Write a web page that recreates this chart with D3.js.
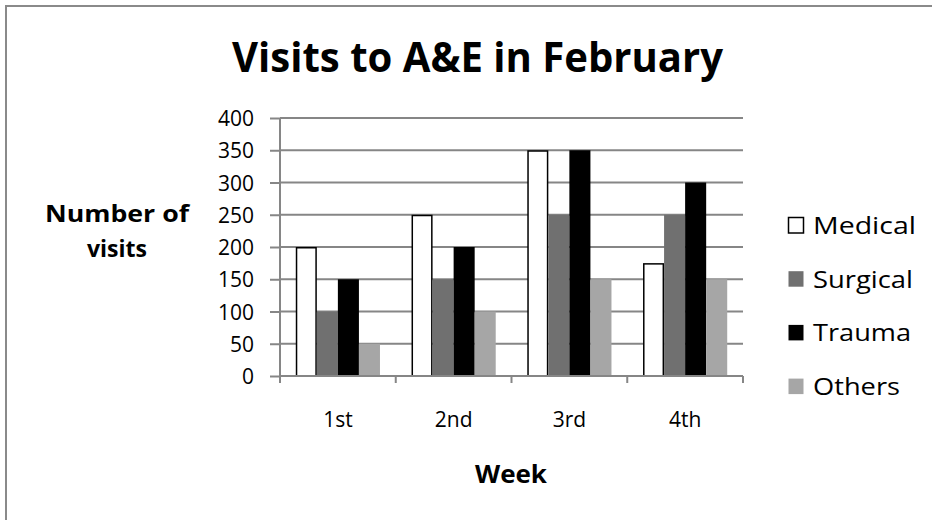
<!DOCTYPE html>
<html>
<head>
<meta charset="utf-8">
<script src="https://cdn.jsdelivr.net/npm/d3@7"></script>
<style>
  html, body { margin: 0; padding: 0; background: #fff; }
  svg { display: block; }
  text { font-family: "Open Sans", "Noto Sans", sans-serif; fill: #000; }
</style>
</head>
<body>
<svg id="chart" width="932" height="520"></svg>
<script>
// ---- data ----
const weeks = ["1st", "2nd", "3rd", "4th"];
const seriesNames = ["Medical", "Surgical", "Trauma", "Others"];
const medical = [200, 250, 350, 175];
const surgical = [100, 150, 250, 250];
const trauma = [150, 200, 350, 300];
const others = [50, 100, 150, 150];
const yTicks = [0, 50, 100, 150, 200, 250, 300, 350, 400];
const titleText = "Visits to A&E in February";
const yLabelLines = ["Number of", "visits"];
const xLabelText = "Week";

const seriesValues = [medical, surgical, trauma, others];
const fills = ["#ffffff", "#707070", "#000000", "#a6a6a6"];
const strokes = ["#000000", "none", "none", "none"];

const svg = d3.select("#chart");

// outer border (only top/left visible in reference)
svg.append("rect").attr("x", 6).attr("y", 6).attr("width", 1200).attr("height", 1200)
  .attr("fill", "none").attr("stroke", "#8a8a8a").attr("stroke-width", 2);

const x0 = 280, x1 = 743, yBottom = 376, yTop = 118;
const x = d3.scaleBand().domain(weeks).range([x0, x1]).padding(0);
const y = d3.scaleLinear().domain([0, 400]).range([yBottom, yTop]);

// gridlines
svg.append("g").selectAll("line").data(yTicks.filter(d => d > 0)).join("line")
  .attr("x1", x0).attr("x2", x1)
  .attr("y1", d => y(d)).attr("y2", d => y(d))
  .attr("stroke", "#868686").attr("stroke-width", 2);

// bars
const bw = x.bandwidth() / 5.5;
const off = bw * 0.75;
const barG = svg.append("g");
seriesValues.forEach((vals, si) => {
  barG.selectAll(null).data(weeks).join("rect")
    .attr("x", d => x(d) + off + si * bw + (si === 0 ? 0.75 : 0))
    .attr("y", (d, i) => y(vals[i]) + (si === 0 ? 0.75 : 0))
    .attr("width", bw - (si === 0 ? 1.5 : 0))
    .attr("height", (d, i) => yBottom - y(vals[i]) - (si === 0 ? 0.75 : 0))
    .attr("fill", fills[si])
    .attr("stroke", strokes[si])
    .attr("stroke-width", 1.5);
});

// y axis
const yAxis = d3.axisLeft(y).tickValues(yTicks).tickSize(10).tickPadding(16);
const yG = svg.append("g").attr("transform", `translate(${x0},0)`).call(yAxis);
yG.select(".domain").attr("stroke", "#868686").attr("stroke-width", 2)
  .attr("d", `M0,${yBottom}V${yTop}`);
yG.selectAll(".tick line").attr("stroke", "#868686").attr("stroke-width", 2);
yG.selectAll(".tick text").attr("font-size", 21).attr("font-family", "'Open Sans', sans-serif")
  .attr("fill", "#000").attr("dy", "0.36em");

// x axis
const xAxis = d3.axisBottom(x).tickSize(0).tickPadding(0);
const xG = svg.append("g").attr("transform", `translate(0,${yBottom})`).call(xAxis);
xG.select(".domain").attr("stroke", "#868686").attr("stroke-width", 2)
  .attr("d", `M${x0},0H${x1}`);
xG.selectAll(".tick text").attr("font-size", 21).attr("font-family", "'Open Sans', sans-serif")
  .attr("fill", "#000").attr("y", 50.7).attr("dy", 0);
// category boundary tick marks
const boundaries = weeks.map(w => x(w)).concat([x1]);
xG.append("g").selectAll("line").data(boundaries).join("line")
  .attr("x1", d => d).attr("x2", d => d).attr("y1", 0).attr("y2", 7)
  .attr("stroke", "#868686").attr("stroke-width", 2);

// title
svg.append("text").attr("x", 477.5).attr("y", 72).attr("text-anchor", "middle")
  .attr("font-size", 42).attr("font-weight", "bold")
  .attr("textLength", 491).attr("lengthAdjust", "spacingAndGlyphs")
  .text(titleText);

// y label
const yLabWidths = [144, 60];
yLabelLines.forEach((t, i) => {
  svg.append("text").attr("x", 117).attr("y", 221.7 + i * 35).attr("text-anchor", "middle")
    .attr("font-size", 23.5).attr("font-weight", "bold")
    .attr("textLength", yLabWidths[i]).attr("lengthAdjust", "spacingAndGlyphs")
    .text(t);
});

// x label
svg.append("text").attr("x", 511).attr("y", 482.7).attr("text-anchor", "middle")
  .attr("font-size", 24.5).attr("font-weight", "bold")
  .attr("textLength", 72).attr("lengthAdjust", "spacingAndGlyphs")
  .text(xLabelText);

// legend
const legW = [103, 100, 98, 87];
const legG = svg.append("g");
seriesNames.forEach((name, i) => {
  const base = 234 + i * 53.7;
  legG.append("rect").attr("x", 788.5).attr("y", base - 16.5).attr("width", 15).attr("height", 15.5)
    .attr("fill", fills[i]).attr("stroke", i === 0 ? "#000" : "none").attr("stroke-width", 1.5);
  legG.append("text").attr("x", 813).attr("y", base).attr("font-size", 24)
    .attr("textLength", legW[i]).attr("lengthAdjust", "spacingAndGlyphs")
    .text(name);
});
</script>
</body>
</html>
